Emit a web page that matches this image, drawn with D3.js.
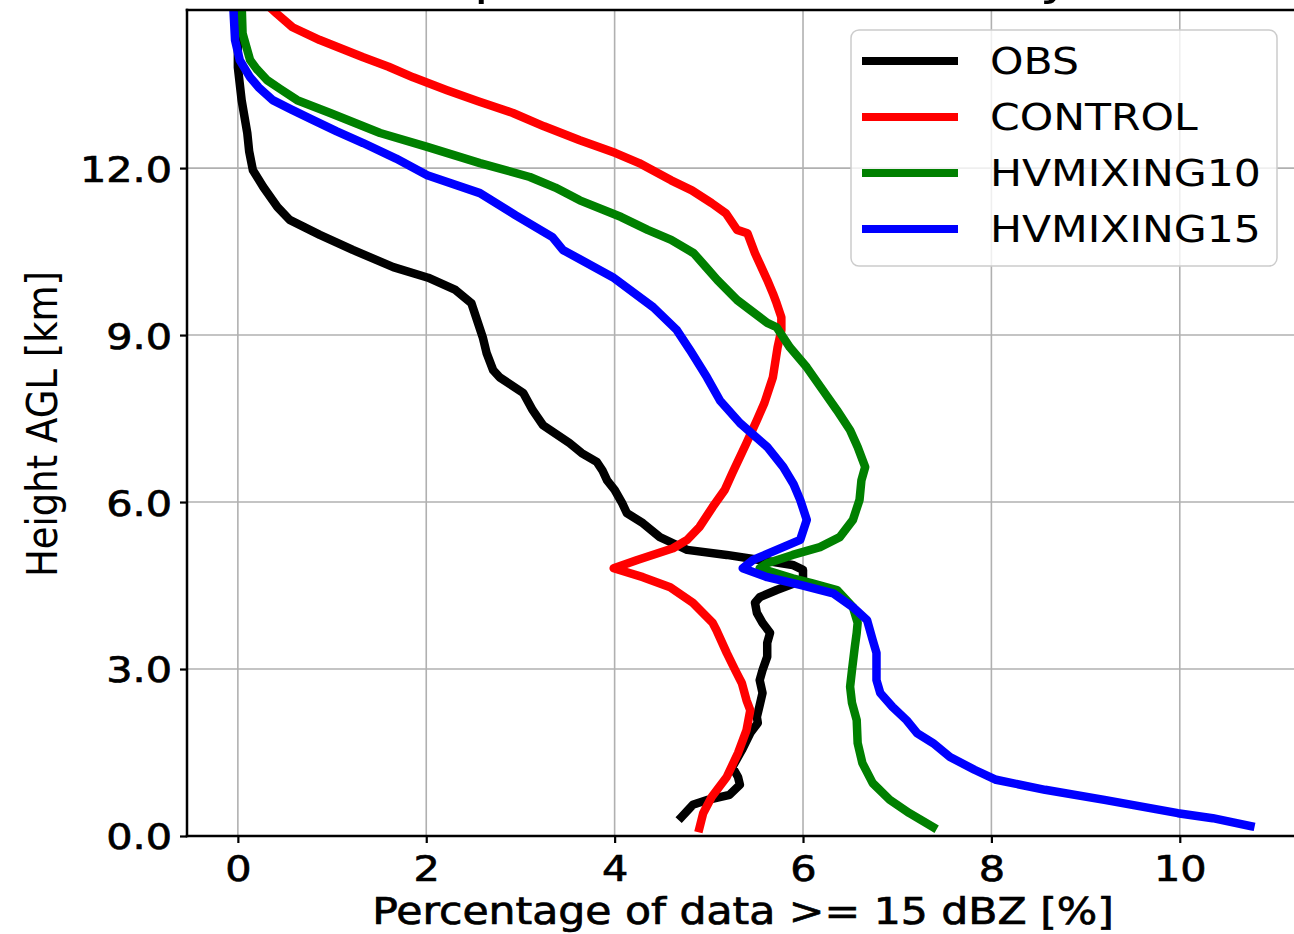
<!DOCTYPE html>
<html>
<head>
<meta charset="utf-8">
<script src="https://cdn.jsdelivr.net/npm/d3@7"></script>
<style>
  body { margin: 0; background: #fff; }
  svg { display: block; }
  text { font-family: "DejaVu Sans", sans-serif; }
</style>
</head>
<body>
<svg id="chart"></svg>
<script>
// series, [percent, height km] from bottom to top
var seriesNames = ["OBS", "CONTROL", "HVMIXING10", "HVMIXING15"];
var seriesColors = ["#000000", "#ff0000", "#008000", "#0000ff"];

var obsProfile = [
  [4.71,0.34],[4.83,0.56],[4.99,0.65],[5.22,0.74],[5.33,0.92],[5.31,1.06],[5.25,1.24],[5.35,1.54],
  [5.44,1.85],[5.52,2.03],[5.51,2.14],[5.54,2.35],[5.57,2.57],[5.54,2.80],[5.57,2.98],[5.62,3.22],
  [5.62,3.47],[5.65,3.65],[5.57,3.83],[5.51,4.01],[5.49,4.19],[5.54,4.29],[5.72,4.42],[5.86,4.51],
  [6.00,4.60],[6.00,4.78],[5.89,4.87],[5.54,4.96],[5.19,5.05],[4.77,5.14],[4.62,5.26],[4.48,5.37],
  [4.30,5.62],[4.13,5.80],[4.08,5.98],[4.00,6.22],[3.92,6.39],[3.87,6.57],[3.81,6.72],[3.65,6.88],
  [3.52,7.06],[3.24,7.38],[3.13,7.65],[3.03,7.96],[2.78,8.24],[2.71,8.37],[2.64,8.68],[2.60,8.96],
  [2.48,9.57],[2.31,9.81],[2.02,10.03],[1.65,10.22],[1.22,10.53],[0.87,10.80],[0.55,11.07],[0.42,11.30],
  [0.27,11.66],[0.16,11.96],[0.12,12.30],[0.10,12.63],[0.04,13.22],[0.00,13.81],[0.00,14.30],[-0.01,14.95]
];

var controlProfile = [
  [4.90,0.14],[4.94,0.41],[5.03,0.70],[5.19,1.06],[5.31,1.49],[5.40,1.90],[5.44,2.26],[5.40,2.44],
  [5.35,2.75],[5.28,2.98],[5.19,3.29],[5.08,3.70],[5.04,3.83],[4.83,4.19],[4.59,4.47],[4.30,4.65],
  [3.99,4.81],[4.24,4.96],[4.62,5.17],[4.77,5.32],[4.90,5.55],[5.04,5.91],[5.17,6.22],[5.25,6.52],
  [5.40,7.06],[5.51,7.47],[5.59,7.78],[5.68,8.24],[5.73,8.78],[5.77,9.09],[5.77,9.32],[5.72,9.57],
  [5.68,9.75],[5.62,9.99],[5.49,10.47],[5.41,10.83],[5.30,10.89],[5.18,11.19],[5.03,11.37],[4.82,11.60],
  [4.60,11.78],[4.26,12.09],[4.01,12.27],[3.63,12.50],[3.25,12.75],[2.92,12.99],[2.55,13.20],[2.22,13.40],
  [1.86,13.63],[1.60,13.82],[1.33,13.99],[0.87,14.30],[0.58,14.53],[0.41,14.78],[0.30,14.95]
];

var mix10Profile = [
  [7.38,0.16],[7.13,0.41],[6.92,0.65],[6.74,0.95],[6.63,1.31],[6.58,1.67],[6.57,2.08],[6.52,2.39],
  [6.50,2.68],[6.52,2.98],[6.55,3.40],[6.57,3.65],[6.58,3.83],[6.53,4.11],[6.36,4.42],[6.10,4.54],
  [5.89,4.63],[5.54,4.81],[5.62,4.90],[5.89,5.05],[6.18,5.19],[6.39,5.37],[6.53,5.68],[6.60,6.04],
  [6.62,6.39],[6.66,6.63],[6.58,6.99],[6.50,7.29],[6.36,7.65],[6.21,8.01],[6.04,8.42],[5.86,8.78],
  [5.72,9.14],[5.62,9.22],[5.44,9.45],[5.30,9.63],[5.09,9.99],[4.97,10.22],[4.84,10.47],[4.60,10.71],
  [4.35,10.89],[4.07,11.12],[3.63,11.42],[3.37,11.65],[3.10,11.84],[2.57,12.09],[2.01,12.38],[1.51,12.63],
  [0.98,12.99],[0.63,13.22],[0.45,13.42],[0.31,13.58],[0.20,13.78],[0.13,13.94],[0.05,14.42],[0.04,14.95]
];

var mix15Profile = [
  [10.75,0.18],[10.35,0.32],[9.98,0.41],[9.20,0.65],[8.57,0.83],[8.05,1.01],[7.82,1.19],[7.56,1.42],
  [7.38,1.67],[7.21,1.85],[7.10,2.08],[6.95,2.32],[6.82,2.57],[6.78,2.80],[6.78,3.29],[6.74,3.52],
  [6.68,3.88],[6.53,4.11],[6.32,4.36],[5.97,4.51],[5.62,4.65],[5.36,4.81],[5.47,4.96],[5.72,5.14],
  [5.97,5.32],[6.04,5.68],[5.97,6.04],[5.90,6.32],[5.79,6.63],[5.62,6.99],[5.33,7.42],[5.12,7.82],
  [4.98,8.24],[4.80,8.73],[4.66,9.09],[4.41,9.50],[3.98,10.04],[3.45,10.53],[3.34,10.76],[2.95,11.15],
  [2.57,11.55],[2.01,11.87],[1.68,12.17],[1.33,12.45],[1.05,12.66],[0.80,12.86],[0.57,13.05],[0.37,13.22],
  [0.22,13.45],[0.13,13.63],[0.02,13.94],[-0.03,14.30],[-0.05,14.95]
];

var xTicks = [0, 2, 4, 6, 8, 10];
var yTicks = [0, 3, 6, 9, 12];
var xLabel = "Percentage of data >= 15 dBZ [%]";
var yLabel = "Height AGL [km]";
var titleText = "Comparison of Echo Analysis";

var width = 1294, height = 934;
var SX = 1.15;   // the picture is a bit wider than tall, text too
var plot = { left: 187, right: 1306, top: 10, bottom: 836 };

var x = d3.scaleLinear().domain([-0.54, 11.34]).range([plot.left, plot.right]);
var y = d3.scaleLinear().domain([0, 14.84]).range([plot.bottom, plot.top]);

var svg = d3.select("#chart").attr("width", width).attr("height", height);

svg.append("defs").append("clipPath").attr("id", "clip")
  .append("rect")
  .attr("x", plot.left).attr("y", plot.top)
  .attr("width", plot.right - plot.left).attr("height", plot.bottom - plot.top);

// text stretched horizontally round its anchor
function stretchedText(parent, px, py, str, size, anchor, rotate) {
  var tf = "translate(" + px + "," + py + ") scale(" + SX + ",1)";
  if (rotate) tf += " rotate(" + rotate + ")";
  return parent.append("text")
    .attr("transform", tf)
    .attr("text-anchor", anchor)
    .attr("font-size", size)
    .attr("fill", "#000")
    .text(str);
}

// title, almost all of it above the picture
stretchedText(svg, (plot.left + plot.right) / 2, -6, titleText, 48, "middle");

// grid
var grid = svg.append("g").attr("clip-path", "url(#clip)");
grid.selectAll(".vgrid").data(xTicks).enter().append("line")
  .attr("x1", function (d) { return x(d); }).attr("x2", function (d) { return x(d); })
  .attr("y1", plot.top).attr("y2", plot.bottom)
  .attr("stroke", "#b0b0b0").attr("stroke-width", 1.6);
grid.selectAll(".hgrid").data(yTicks).enter().append("line")
  .attr("y1", function (d) { return y(d); }).attr("y2", function (d) { return y(d); })
  .attr("x1", plot.left).attr("x2", plot.right)
  .attr("stroke", "#b0b0b0").attr("stroke-width", 1.6);

// profiles
var profiles = [obsProfile, controlProfile, mix10Profile, mix15Profile];
var line = d3.line()
  .x(function (d) { return x(d[0]); })
  .y(function (d) { return y(d[1]); });

svg.append("g").attr("clip-path", "url(#clip)")
  .selectAll("path").data(profiles).enter().append("path")
  .attr("d", line)
  .attr("fill", "none")
  .attr("stroke", function (d, i) { return seriesColors[i]; })
  .attr("stroke-width", 8.5)
  .attr("stroke-linejoin", "round")
  .attr("stroke-linecap", "square");

// axes
var xAxis = svg.append("g")
  .attr("transform", "translate(0," + plot.bottom + ")")
  .call(d3.axisBottom(x).tickValues(xTicks).tickSize(7).tickSizeOuter(0));
var yAxis = svg.append("g")
  .attr("transform", "translate(" + plot.left + ",0)")
  .call(d3.axisLeft(y).tickValues(yTicks).tickFormat(d3.format(".1f")).tickSize(7).tickSizeOuter(0));

[xAxis, yAxis].forEach(function (ax) {
  ax.select(".domain").remove();
  ax.attr("font-family", "DejaVu Sans, sans-serif").attr("font-size", 36);
  ax.selectAll(".tick line").attr("stroke", "#000").attr("stroke-width", 2.2);
  ax.selectAll(".tick text").attr("fill", "#000")
    .attr("stroke", "#000").attr("stroke-width", 0.7)
    .attr("transform", "scale(" + SX + ",1)");
});
xAxis.selectAll(".tick text").attr("y", 45).attr("dy", null);
yAxis.selectAll(".tick text").attr("x", -13).attr("dy", "0.36em");

// spines
var spines = svg.append("g").attr("stroke", "#000").attr("stroke-width", 2.5).attr("stroke-linecap", "square");
spines.append("line").attr("x1", plot.left).attr("x2", plot.left).attr("y1", plot.top).attr("y2", plot.bottom);
spines.append("line").attr("x1", plot.left).attr("x2", plot.right).attr("y1", plot.bottom).attr("y2", plot.bottom);
spines.append("line").attr("x1", plot.left).attr("x2", plot.right).attr("y1", plot.top).attr("y2", plot.top);
spines.append("line").attr("x1", plot.right).attr("x2", plot.right).attr("y1", plot.top).attr("y2", plot.bottom);

// axis labels
stretchedText(svg, 743, 924, xLabel, 37, "middle")
  .attr("stroke", "#000").attr("stroke-width", 0.7);
stretchedText(svg, 57, 424, yLabel, 37, "middle", -90);

// legend
var legend = svg.append("g");
legend.append("rect")
  .attr("x", 851).attr("y", 30).attr("width", 426).attr("height", 236)
  .attr("rx", 8).attr("ry", 8)
  .attr("fill", "#fff").attr("fill-opacity", 0.8)
  .attr("stroke", "#cccccc").attr("stroke-width", 1.5);

var legendRow = d3.scaleLinear().domain([0, 3]).range([61, 229]);
seriesNames.forEach(function (name, i) {
  var ly = legendRow(i);
  legend.append("line")
    .attr("x1", 862).attr("x2", 958).attr("y1", ly).attr("y2", ly)
    .attr("stroke", seriesColors[i]).attr("stroke-width", 8);
  stretchedText(legend, 990, ly + 13, name, 37, "start");
});
</script>
</body>
</html>
